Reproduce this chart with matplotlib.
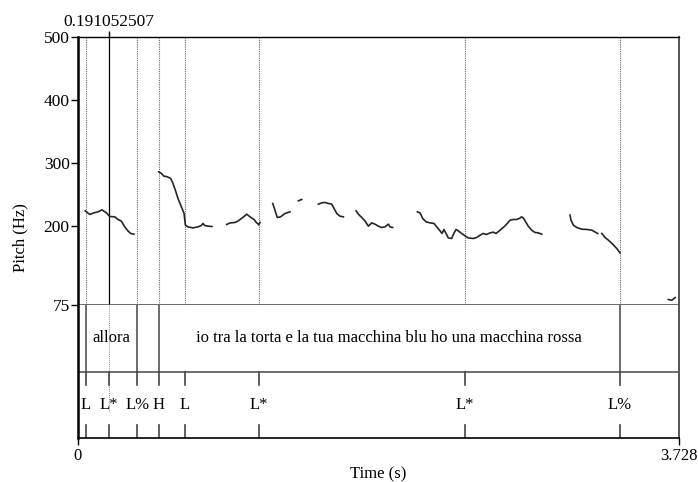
import numpy as np
import matplotlib
matplotlib.use("Agg")
import matplotlib.pyplot as plt

plt.rcParams['font.family'] = ['Liberation Serif', 'DejaVu Serif']

# pitch contour (s, Hz); nan separates voiced stretches
pitch_t = [0.045, 0.073, 0.099, 0.124, 0.149, 0.176, 0.197, 0.228, 0.248, 0.269, 0.290, 0.310, 0.327, 0.347, np.nan,
           0.501, 0.517, 0.533, 0.554, 0.575, 0.589, 0.604, 0.620, 0.641, 0.658, 0.666, 0.682, 0.713, 0.744, 0.765,
           0.775, 0.786, 0.806, 0.831, np.nan,
           0.922, 0.943, 0.974, 0.994, 1.022, 1.047, 1.067, 1.092, 1.108, 1.115, 1.121, 1.129, np.nan,
           1.208, 1.222, 1.236, 1.257, 1.284, 1.315, np.nan,
           1.367, 1.378, 1.388, np.nan,
           1.491, 1.512, 1.532, 1.553, 1.574, 1.588, 1.605, 1.625, 1.646, np.nan,
           1.725, 1.739, 1.760, 1.780, 1.801, 1.822, 1.842, 1.863, 1.884, 1.904, 1.925, 1.935, 1.952, np.nan,
           2.105, 2.122, 2.138, 2.159, 2.184, 2.208, 2.229, 2.246, 2.258, 2.270, 2.283, 2.297, 2.318, 2.333, 2.345,
           2.359, 2.380, 2.401, 2.421, 2.452, 2.473, 2.494, 2.514, 2.535, 2.556, 2.576, 2.593, 2.618, 2.638, 2.659,
           2.680, 2.700, 2.721, 2.737, 2.752, 2.762, 2.773, 2.793, 2.814, 2.835, 2.855, 2.877, np.nan,
           3.052, 3.058, 3.073, 3.094, 3.125, 3.156, 3.187, 3.207, 3.224, np.nan,
           3.249, 3.269, 3.290, 3.317, 3.342, 3.362, np.nan,
           3.662, 3.683, 3.704]
pitch_hz = [224.3, 218.6, 221.1, 222.7, 225.9, 221.1, 215.4, 214.8, 210.7, 207.9, 198.9, 192.5, 188.4, 187.3, np.nan,
            286.2, 283.6, 279.4, 278.3, 275.7, 267.8, 257.1, 244.0, 230.6, 220.2, 201.6, 198.9, 197.3, 198.9, 201.1,
            204.3, 201.1, 200.0, 199.5, np.nan,
            202.7, 205.2, 205.9, 208.4, 213.8, 219.0, 214.8, 210.6, 205.2, 204.3, 202.0, 205.9, np.nan,
            236.0, 225.4, 213.8, 214.8, 220.2, 222.7, np.nan,
            240.2, 241.3, 242.4, np.nan,
            234.9, 237.0, 237.6, 236.0, 234.9, 228.1, 220.2, 215.9, 214.8, np.nan,
            224.3, 219.0, 213.8, 208.4, 200.0, 205.2, 203.2, 200.0, 197.9, 198.9, 203.2, 198.9, 197.9, np.nan,
            222.7, 221.1, 212.2, 206.8, 205.2, 204.3, 197.9, 192.5, 188.4, 194.8, 188.4, 181.4, 180.5, 189.4, 194.8,
            192.5, 188.4, 184.6, 181.4, 180.5, 182.1, 185.7, 188.4, 186.8, 189.4, 190.5, 188.4, 193.7, 197.9, 203.2,
            209.5, 210.6, 210.6, 212.2, 214.8, 213.2, 208.4, 200.0, 193.7, 190.0, 189.4, 187.3, np.nan,
            217.5, 209.5, 201.6, 197.9, 195.2, 194.8, 193.7, 190.9, 188.4, np.nan,
            188.4, 182.1, 177.8, 171.4, 164.6, 157.6, np.nan,
            83.7, 82.5, 86.8]

# TextGrid
total_dur = 3.728
cursor_t = 0.191052507
words_bounds = [0.050, 0.368, 0.500, 3.362]
words_labels = ["allora", "", "io tra la torta e la tua macchina blu ho una macchina rossa"]
tone_t = [0.050, 0.191, 0.368, 0.500, 0.664, 1.121, 2.400, 3.362]
tone_labels = ["L", "L*", "L%", "H", "L", "L*", "L*", "L%"]
pitch_ticks = [75, 200, 300, 400, 500]

W, H = 698, 482
FS = 12.5
FS_TXT = 12


def rect(x0, y0, x1, y1):
    return [x0 / W, 1 - y1 / H, (x1 - x0) / W, (y1 - y0) / H]


fig = plt.figure(figsize=(W / 100, H / 100), dpi=100)
ax = fig.add_axes(rect(78, 37, 679, 305))
axt = fig.add_axes(rect(78, 305, 679, 438))

# pitch area
ax.set_xlim(0, total_dur)
ax.set_ylim(75, 500)
for t in sorted(set(words_bounds + tone_t)):
    if abs(t - cursor_t) < 0.01:
        continue
    ax.axvline(t, color='#666666', lw=0.8, ls=(0, (1, 1)))
ax.axvline(cursor_t, color='black', lw=0.9)
ax.plot(pitch_t, pitch_hz, color='#262626', lw=1.2)

ax.set_yticks(pitch_ticks)
ax.set_yticklabels([str(v) for v in pitch_ticks])
ax.tick_params(axis='y', direction='out', length=5, width=1, labelsize=FS, pad=1)
ax.xaxis.set_ticks_position('top')
ax.set_xticks([cursor_t])
ax.set_xticklabels(["0.191052507"])
ax.tick_params(axis='x', direction='out', length=4, width=1, labelsize=FS, pad=1)
ax.spines['left'].set_linewidth(1.8)
ax.spines['top'].set_linewidth(1.0)
ax.spines['right'].set_color('#555555')
ax.spines['right'].set_linewidth(1.4)
ax.spines['bottom'].set_color('#555555')
ax.spines['bottom'].set_linewidth(1.2)

# tiers
axt.set_xlim(0, total_dur)
axt.set_ylim(0, 2)
axt.axhline(1, color='#555555', lw=1.2)
axt.axvline(cursor_t, ymin=0.2, ymax=1, color='#999999', lw=0.7, ls=(0, (1, 1)))
for t in words_bounds:
    axt.plot([t, t], [1, 2], color='#555555', lw=1.2)
for a, b, lab in zip(words_bounds[:-1], words_bounds[1:], words_labels):
    if lab:
        axt.text((a + b) / 2, 1.5, lab, ha='center', va='center', fontsize=FS_TXT)
for t, lab in zip(tone_t, tone_labels):
    axt.plot([t, t], [1, 0.8], color='#444444', lw=1.2)
    axt.plot([t, t], [0, 0.2], color='#444444', lw=1.2)
    axt.text(t, 0.5, lab, ha='center', va='center', fontsize=FS_TXT)

axt.set_yticks([])
axt.set_xticks([0, total_dur])
axt.set_xticklabels(["0", "3.728"])
axt.tick_params(axis='x', direction='out', length=5, width=1, labelsize=FS_TXT, pad=2)
axt.spines['top'].set_visible(False)
axt.spines['left'].set_linewidth(1.8)
axt.spines['right'].set_color('#555555')
axt.spines['right'].set_linewidth(1.4)
axt.spines['bottom'].set_linewidth(1.2)

fig.text(20 / W, 1 - 238 / H, "Pitch (Hz)", rotation=90, ha='center', va='center', fontsize=FS_TXT)
fig.text(378 / W, 1 - 474 / H, "Time (s)", ha='center', va='center', fontsize=FS_TXT)

fig.savefig("out.png", dpi=100)
